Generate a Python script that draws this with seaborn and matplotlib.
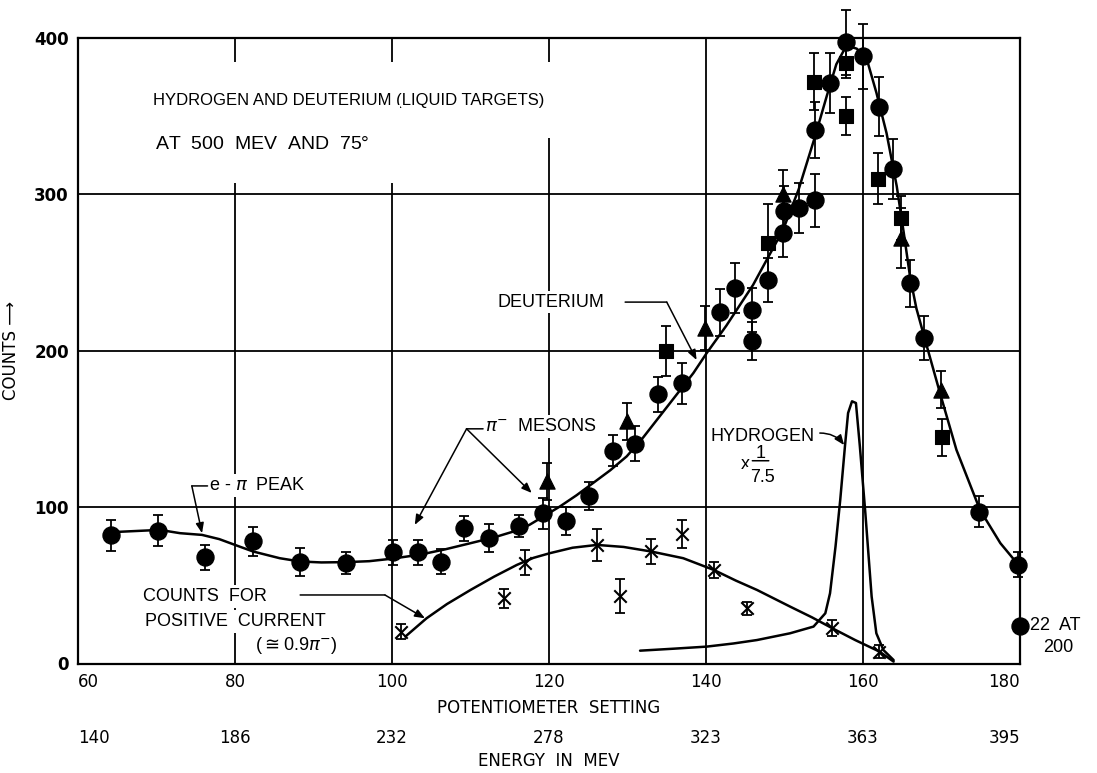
import numpy as np
import pandas as pd
import matplotlib
matplotlib.use("Agg")
import matplotlib.pyplot as plt
import seaborn as sns

# ---------------- data ----------------
# Deuterium, circles
circ_x = [64.2, 70.2, 76.2, 82.3, 88.3, 94.1, 100.1, 103.3, 106.3, 109.2, 112.3, 116.2, 119.2,
          122.2, 125.1, 128.2, 131.0, 133.9, 136.9, 141.8, 143.7, 145.9, 145.9, 147.9, 149.8,
          149.9, 151.8, 153.9, 153.9, 155.8, 157.8, 160.0, 162.0, 163.8, 166.0, 167.8, 174.8,
          179.8, 180.0]
circ_y = [82, 85, 68, 78, 65, 64, 71, 71, 65, 86.5, 80, 88, 96, 91, 107, 136, 140.5, 172, 179,
          224.5, 240, 206, 226, 245, 275, 289, 291, 296, 341, 371, 397, 388, 356, 316, 243, 208,
          97, 63, 24]
circ_err = [10, 10, 8, 9, 9, 7, 8, 8, 8, 8, 9, 7, 10, 9, 9, 10, 11, 11, 13, 15, 16, 12, 14, 14,
            15, 16, 16, 17, 18, 19, 21, 21, 19, 19, 15, 14, 10, 8, 0]
# Deuterium, squares
sq_x = [134.9, 147.9, 153.7, 157.8, 157.8, 161.9, 164.9, 170.0]
sq_y = [200, 269, 372, 384, 350, 310, 285, 144.5]
sq_err = [16, 25, 18, 10, 12, 16, 14, 12]
# Deuterium, triangles
tri_x = [119.75, 129.9, 139.9, 149.8, 164.8, 169.9]
tri_y = [116.4, 154.8, 214.5, 300.3, 272, 175]
tri_err = [12, 12, 14, 15, 19, 12]
# Counts for positive current, crosses
pos_x = [101.2, 114.3, 116.9, 126.1, 129.0, 133.0, 137.0, 141.0, 145.2, 156.1, 162.1]
pos_y = [20.4, 41.7, 64.5, 75.8, 43.2, 71.6, 82.9, 59.8, 35.3, 22.5, 7.6]
pos_err = [5, 6, 8, 10, 11, 8, 9, 5, 4, 5, 4]

# smooth curves drawn on the chart
deut_x = [64.5, 70.4, 73.0, 75.8, 78.0, 80.0, 82.3, 85.7, 88.3, 91.0, 94.2, 97.1, 100.0, 103.6,
          106.8, 110.0, 113.0, 115.5, 117.5, 119.3, 121.4, 123.5, 125.6, 127.8, 129.9, 132.0,
          134.1, 136.2, 138.4, 140.1, 142.6, 144.3, 146.0, 147.3, 149.8, 151.8, 153.9, 155.4,
          156.6, 157.9, 159.2, 160.5, 161.7, 163.0, 164.3, 165.2, 166.0, 166.8, 167.9, 169.8,
          171.9, 174.9, 177.5, 179.8]
deut_y = [84.0, 85.4, 83.3, 82.2, 79.5, 75.8, 71.6, 67.3, 65.2, 64.6, 64.8, 65.4, 67.0, 69.6,
          73.0, 76.9, 80.6, 84.4, 88.6, 94.0, 100.4, 107.5, 115.3, 123.5, 132.4, 144.5, 158.0,
          171.5, 185.7, 198.5, 216.0, 229.0, 242.0, 254.0, 277.0, 303.0, 337.0, 363.0, 383.0,
          395.0, 393.0, 386.0, 365.0, 339.0, 305.0, 275.0, 247.0, 227.0, 207.0, 173.0, 136.6,
          98.2, 76.9, 63.0]
posc_x = [101.7, 104.4, 107.0, 110.0, 113.0, 115.9, 118.0, 120.1, 123.0, 126.1, 129.5, 133.0,
          137.1, 141.0, 143.8, 146.5, 150.7, 153.5, 156.1, 159.0, 162.1, 163.9]
posc_y = [17.2, 28.9, 38.0, 47.0, 55.5, 63.0, 67.5, 70.5, 74.0, 75.8, 74.5, 71.6, 67.3, 59.8,
          53.0, 47.0, 36.4, 29.5, 22.5, 15.0, 7.6, 1.2]
hyd_x = [131.6, 136.0, 140.1, 143.5, 146.5, 150.7, 153.7, 155.2, 155.8, 156.5, 157.1, 157.7,
         158.1, 158.6, 159.1, 159.6, 160.3, 161.1, 161.7, 162.6, 163.9]
hyd_y = [8.2, 9.5, 10.8, 12.8, 15.0, 19.3, 23.6, 32.1, 44.9, 74.8, 104.6, 138.8, 160.1, 167.6,
         166.5, 138.8, 96.1, 42.8, 19.3, 8.6, 2.2]

pot_ticks = [60, 80, 100, 120, 140, 160, 180]
energy_labels = ["140", "186", "232", "278", "323", "363", "395"]
count_ticks = [0, 100, 200, 300, 400]

# ---------------- style ----------------
sns.set_theme(style="white")
plt.rcParams["font.family"] = ["DejaVu Sans"]
TXT = dict(family=["Liberation Sans", "DejaVu Sans"], fontsize=13, color="black")
WB = dict(facecolor="white", edgecolor="none", pad=2)

fig = plt.figure(figsize=(10.97, 7.73), dpi=100)
ax = fig.add_axes([78 / 1097, 1 - 663.5 / 773, (1020 - 78) / 1097, (663.5 - 37.7) / 773])
ax.set_xlim(60, 180)
ax.set_ylim(0, 400)

for s in ax.spines.values():
    s.set_color("black")
    s.set_linewidth(1.6)
ax.set_xticks(pot_ticks)
ax.set_yticks(count_ticks)
ax.grid(True, color="black", linewidth=1.3, zorder=0)
ax.set_axisbelow(True)
ax.tick_params(axis="both", colors="black", length=3, width=1.2, direction="out")
ax.set_xticklabels([str(t) for t in pot_ticks], fontsize=12)
ax.set_yticklabels([str(t) for t in count_ticks], fontsize=12, fontweight="bold")
xt = ax.get_xticklabels()
xt[0].set_ha("left")
xt[-1].set_ha("right")
ax.set_xlabel("POTENTIOMETER  SETTING", fontsize=12, labelpad=6, color="black")
ax.set_ylabel("COUNTS ⟶", fontsize=12, labelpad=10, color="black")

sec = ax.secondary_xaxis(-0.095)
sec.set_xticks(pot_ticks)
sec.set_xticklabels(energy_labels, fontsize=12)
sec.tick_params(length=0, colors="black", pad=4)
sec.spines["bottom"].set_visible(False)
sec.set_xlabel("ENERGY  IN  MEV", fontsize=12, labelpad=4, color="black")
st = sec.get_xticklabels()
st[0].set_ha("left")
st[-1].set_ha("right")

# ---------------- curves ----------------
lw = 1.8
sns.lineplot(x=deut_x, y=deut_y, sort=False, estimator=None, color="black", lw=lw, ax=ax, zorder=3)
sns.lineplot(x=posc_x, y=posc_y, sort=False, estimator=None, color="black", lw=lw, ax=ax, zorder=3)
sns.lineplot(x=hyd_x, y=hyd_y, sort=False, estimator=None, color="black", lw=lw, ax=ax, zorder=3)

# ---------------- points with error bars ----------------
eb = dict(fmt="none", ecolor="black", elinewidth=1.3, capsize=3.5, capthick=1.3, zorder=4, clip_on=False)
ax.errorbar(circ_x, circ_y, yerr=circ_err, **eb)
ax.errorbar(sq_x, sq_y, yerr=sq_err, **eb)
ax.errorbar(tri_x, tri_y, yerr=tri_err, **eb)
ax.errorbar(pos_x, pos_y, yerr=pos_err, **eb)

sns.scatterplot(x=circ_x, y=circ_y, marker="o", s=150, color="black", edgecolor="black", ax=ax, zorder=5, clip_on=False)
sns.scatterplot(x=sq_x, y=sq_y, marker="s", s=95, color="black", edgecolor="black", ax=ax, zorder=5)
sns.scatterplot(x=tri_x, y=tri_y, marker="^", s=120, color="black", edgecolor="black", ax=ax, zorder=5)
sns.scatterplot(x=pos_x, y=pos_y, marker="x", s=80, color="black", linewidth=1.5, ax=ax, zorder=5)

# ---------------- annotations ----------------
# heading; white boxes break the 80 / 100 grid lines as in the original
ax.text(69.6, 360, "HYDROGEN AND DEUTERIUM (LIQUID TARGETS)", ha="left", va="center", zorder=2,
        family=["Liberation Sans Narrow", "Liberation Sans", "DejaVu Sans"], fontsize=12, color="black",
        bbox=dict(facecolor="white", edgecolor="none", pad=22))
ax.text(69.8, 332, r"AT  500  MEV  AND  75°$\quad\quad\quad\quad$", ha="left", va="center", zorder=2.1,
        family=["Liberation Sans", "DejaVu Sans"], fontsize=14, color="black",
        bbox=dict(facecolor="white", edgecolor="none", pad=22))

arr = dict(arrowstyle="-|>,head_length=0.5,head_width=0.2", color="black", lw=1.1, shrinkA=0, shrinkB=0)
seg = dict(arrowstyle="-", color="black", lw=1.1, shrinkA=0, shrinkB=0)

# DEUTERIUM
ax.text(120.3, 231, "DEUTERIUM", ha="center", va="center", zorder=2, bbox=WB, **TXT)
ax.annotate("", xy=(135.0, 231), xytext=(129.7, 231), arrowprops=seg, zorder=2)
ax.annotate("", xy=(138.8, 194), xytext=(135.0, 231), arrowprops=arr, zorder=2)

# pi- MESONS
ax.text(111.8, 151.5, r"$\pi^{-}$  MESONS", ha="left", va="center", zorder=2, bbox=WB, **TXT)
ax.annotate("", xy=(111.6, 150), xytext=(109.5, 150), arrowprops=seg, zorder=2)
ax.annotate("", xy=(102.9, 88.6), xytext=(109.5, 150), arrowprops=arr, zorder=2)
ax.annotate("", xy=(117.8, 109), xytext=(109.5, 150), arrowprops=arr, zorder=2)

# e-pi PEAK
ax.text(76.7, 113.8, r"e - $\pi$  PEAK", ha="left", va="center", zorder=2, bbox=WB, **TXT)
ax.annotate("", xy=(74.5, 113.5), xytext=(76.5, 113.5), arrowprops=seg, zorder=2)
ax.annotate("", xy=(75.8, 83.3), xytext=(74.5, 113.5), arrowprops=arr, zorder=2)

# counts for positive current
ax.text(68.3, 42.8, "COUNTS  FOR", ha="left", va="center", zorder=2, bbox=WB, **TXT)
ax.text(68.5, 26.8, "POSITIVE  CURRENT", ha="left", va="center", zorder=2, bbox=WB, **TXT)
ax.text(82.5, 11.8, r"($\cong$0.9$\pi^{-}$)", ha="left", va="center", zorder=2, bbox=WB, **TXT)
ax.annotate("", xy=(99.1, 43.8), xytext=(88.3, 43.8), arrowprops=seg, zorder=2)
ax.annotate("", xy=(104.2, 28.9), xytext=(99.1, 43.8), arrowprops=arr, zorder=2)

# HYDROGEN x 1/7.5
ax.text(140.6, 145, "HYDROGEN", ha="left", va="center", zorder=2, bbox=WB, **TXT)
ax.text(145.0, 127, "x", ha="center", va="center", zorder=2, bbox=WB, **TXT)
ax.text(146.9, 134, "1", ha="center", va="center", zorder=2, bbox=WB, **TXT)
ax.text(147.2, 118.7, "7.5", ha="center", va="center", zorder=2, bbox=WB, **TXT)
ax.annotate("", xy=(148.0, 129.6), xytext=(145.9, 129.6), arrowprops=seg, zorder=3)
ax.annotate("", xy=(157.6, 139.6), xytext=(154.5, 147.3),
            arrowprops=dict(arr, connectionstyle="arc3,rad=-0.25"), zorder=2)

# 22 AT 200
ax.text(181.3, 24.6, "22  AT", ha="left", va="center", clip_on=False, **TXT)
ax.text(183.0, 10.0, "200", ha="left", va="center", clip_on=False, **TXT)

fig.savefig("out.png", dpi=100)
